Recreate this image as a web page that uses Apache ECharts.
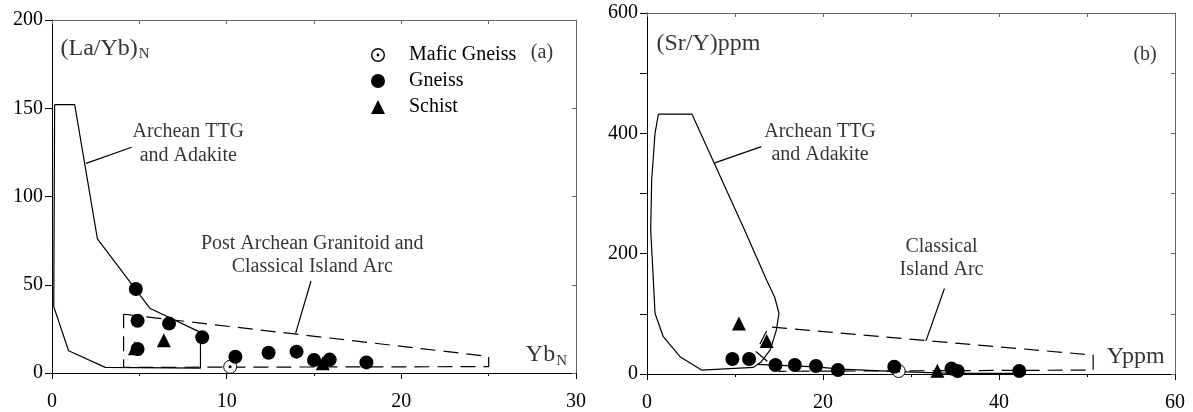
<!DOCTYPE html>
<html>
<head>
<meta charset="utf-8">
<title>(La/Yb)N - YbN and Sr/Y - Y</title>
<style>
  html, body { margin: 0; padding: 0; background: #fff; }
  #chart { width: 1193px; height: 412px; }
</style>
</head>
<body>
<div id="chart"></div>
<script src="https://cdn.jsdelivr.net/npm/echarts@6/dist/echarts.min.js"></script>
<script>
// ---- (a) YbN vs (La/Yb)N ----
var gneissA = [[4.8, 47.6], [4.9, 29.6], [4.9, 13.6], [6.7, 28], [8.6, 20.2], [10.5, 9.2],
               [12.4, 11.5], [14, 12.1], [15, 7.4], [15.9, 7.6], [18, 6]];
var schistA = [[6.4, 18.5], [4.75, 14], [15.5, 5.5]];
var maficA = [[10.2, 3.5]];
var ttgA = [[0.15, 152], [1.3, 152], [2.6, 76], [5.6, 36.7], [8.5, 23], [8.5, 2.8],
            [3.05, 3.2], [0.95, 12.6], [0.1, 37.6], [0.15, 152]];
var arcA = [[4.1, 33.3], [25, 9.4], [25, 3.6], [4.1, 3.2], [4.1, 33.3]];
var leaderA1 = [[1.95, 118.8], [4.56, 127.9]];
var leaderA2 = [[13.95, 22.6], [14.83, 52.1]];

// ---- (b) Y vs Sr/Y ----
var gneissB = [[9.7, 25], [11.6, 25], [14.6, 15], [16.8, 15], [19.2, 13.3], [21.7, 6.6],
               [28.1, 12], [34.6, 9], [35.3, 5], [42.3, 5]];
var schistB = [[10.45, 84], [13.6, 55], [33, 5.5]];
var maficB = [[28.6, 5]];
var ttgB = [[1.3, 432], [5.1, 432], [11.1, 239], [13.6, 156], [14.5, 128], [15.0, 101],
            [14.7, 73], [14.0, 40], [13.0, 20.5], [12.1, 11], [6.2, 6.6], [3.75, 28.8],
            [1.85, 62], [0.91, 101], [0.72, 156], [0.42, 239], [0.53, 322], [0.91, 400], [1.3, 432]];
var arcB = [[14.2, 78], [50.7, 31.5], [50.7, 6.5], [15, 4.5], [12.4, 37], [13.6, 72]];
var lowerB = [[12.5, 16], [19.2, 12], [22, 8], [28.6, 4], [33, 2], [36, 1], [43, 1]];
var leaderB1 = [[7.7, 351], [13.0, 378]];
var leaderB2 = [[31.7, 55], [33.8, 142]];

// text labels (x, y in data units of each panel)
var notesA = [[7.8, 136.5, 'Archean TTG'], [7.8, 123, 'and Adakite'],
              [14.9, 73.4, 'Post Archean Granitoid and'], [14.9, 60, 'Classical Island Arc'],
              [28.05, 181.6, '(a)']];
var notesB = [[19.66, 402, 'Archean TTG'], [19.66, 364, 'and Adakite'],
              [33.47, 211, 'Classical'], [33.47, 173, 'Island Arc'], [56.6, 530, '(b)']];

var FONT = '"Liberation Serif", "Times New Roman", serif';
// open circle with a dot in the middle (legend icon)
var RING = 'path://M0,10A10,10,0,1,1,20,10A10,10,0,1,1,0,10Z' +
           'M2,10A8,8,0,1,0,18,10A8,8,0,1,0,2,10Z' +
           'M8,10A2,2,0,1,1,12,10A2,2,0,1,1,8,10Z';

function bottomAxis(grid, max, step) {
    return {
        type: 'value', gridIndex: grid, position: 'bottom', min: 0, max: max, interval: step,
        axisLine: { onZero: false, lineStyle: { color: '#000', width: 1 } },
        axisTick: { length: 6, lineStyle: { color: '#000' } },
        minorTick: { show: true, splitNumber: 2, length: 3, lineStyle: { color: '#000' } },
        axisLabel: { margin: 19, color: '#000', fontSize: 20, fontFamily: FONT },
        splitLine: { show: false }
    };
}
function topAxis(grid, max, step) {
    return {
        type: 'value', gridIndex: grid, position: 'top', min: 0, max: max, interval: step,
        axisLine: { onZero: false, lineStyle: { color: '#666', width: 1 } },
        axisTick: { inside: true, length: 4, lineStyle: { color: '#666' } },
        axisLabel: { show: false }, splitLine: { show: false }
    };
}
function leftAxis(grid, max, step, minor) {
    return {
        type: 'value', gridIndex: grid, position: 'left', min: 0, max: max, interval: step,
        axisLine: { show: true, onZero: false, lineStyle: { color: '#000', width: 1 } },
        axisTick: { show: true, length: 7, lineStyle: { color: '#000' } },
        minorTick: { show: minor, splitNumber: 2, length: 7, lineStyle: { color: '#000' } },
        axisLabel: { margin: 9, color: '#000', fontSize: 20, fontFamily: FONT },
        splitLine: { show: false }
    };
}
function rightAxis(grid, max, step) {
    return {
        type: 'value', gridIndex: grid, position: 'right', min: 0, max: max, interval: step,
        axisLine: { show: true, onZero: false, lineStyle: { color: '#666', width: 1 } },
        axisTick: { show: true, inside: true, length: 4, lineStyle: { color: '#666' } },
        axisLabel: { show: false }, splitLine: { show: false }
    };
}

function outline(data, ax, dashed) {
    return {
        type: 'line', data: data, xAxisIndex: ax, yAxisIndex: ax, showSymbol: false, symbol: 'none',
        silent: true, z: 1,
        lineStyle: { color: '#000', width: 1.2, type: dashed ? [15, 8] : 'solid' }
    };
}
function points(name, data, ax, symbol, size, color, border) {
    return {
        name: name, type: 'scatter', data: data, xAxisIndex: ax, yAxisIndex: ax,
        symbol: symbol, symbolSize: size, z: 3,
        itemStyle: { color: color, borderColor: '#000', borderWidth: border, opacity: 1 }
    };
}
function notes(list, ax) {
    return {
        type: 'scatter', xAxisIndex: ax, yAxisIndex: ax, silent: true, symbolSize: 1, z: 4,
        itemStyle: { color: 'rgba(0,0,0,0)' },
        data: list.map(function (n) { return { value: [n[0], n[1]], text: n[2] }; }),
        label: {
            show: true, position: 'inside', color: '#000', fontSize: 20, fontFamily: FONT,
            formatter: function (p) { return p.data.text; }
        }
    };
}
function axisTitle(x, y, txt, sub, ax) {
    return {
        type: 'scatter', xAxisIndex: ax, yAxisIndex: ax, silent: true, symbolSize: 1, z: 4,
        itemStyle: { color: 'rgba(0,0,0,0)' },
        data: [[x, y]],
        label: {
            show: true, position: 'right', distance: 0,
            formatter: sub ? '{m|' + txt + '}{s|' + sub + '}' : '{m|' + txt + '}',
            rich: {
                m: { fontSize: 24, color: '#000', fontFamily: FONT },
                s: { fontSize: 15, color: '#000', fontFamily: FONT, padding: [12, 0, 0, 1] }
            }
        }
    };
}

var chart = echarts.init(document.getElementById('chart'));
chart.setOption({
    backgroundColor: '#fff',
    animation: false,
    grid: [
        { left: 52, top: 20, width: 524, height: 353, outerBoundsMode: 'none' },
        { left: 647, top: 13, width: 528, height: 361, outerBoundsMode: 'none' }
    ],
    legend: {
        data: [
            { name: 'Mafic Gneiss', icon: RING, itemStyle: { color: '#000', borderWidth: 0 } },
            { name: 'Gneiss' },
            { name: 'Schist' }
        ],
        orient: 'vertical', left: 366, top: 40,
        itemWidth: 14, itemHeight: 14, itemGap: 6,
        selectedMode: false,
        textStyle: { fontSize: 20, lineHeight: 20, color: '#000', fontFamily: FONT, padding: [0, 0, 0, 19] }
    },
    xAxis: [bottomAxis(0, 30, 10), topAxis(0, 30, 5), bottomAxis(1, 60, 20), topAxis(1, 60, 10)],
    yAxis: [leftAxis(0, 200, 50, false), rightAxis(0, 200, 50), leftAxis(1, 600, 200, true), rightAxis(1, 600, 100)],
    series: [
        outline(ttgA, 0, false),
        outline(arcA, 0, true),
        outline(leaderA1, 0, false),
        outline(leaderA2, 0, false),
        points('Mafic Gneiss', maficA, 0, 'circle', 13, '#fff', 1),
        points('mafic centre', maficA, 0, 'circle', 3, '#000', 0),
        points('Gneiss', gneissA, 0, 'circle', 14, '#000', 0),
        points('Schist', schistA, 0, 'triangle', 14, '#000', 0),
        notes(notesA, 0),
        axisTitle(0.46, 184, '(La/Yb)', 'N', 0),
        axisTitle(27.1, 10.2, 'Yb', 'N', 0),

        outline(ttgB, 2, false),
        outline(arcB, 2, true),
        outline(lowerB, 2, false),
        outline(leaderB1, 2, false),
        outline(leaderB2, 2, false),
        points('Mafic Gneiss', maficB, 2, 'circle', 13, '#fff', 1),
        points('mafic centre', maficB, 2, 'circle', 3, '#000', 0),
        points('Gneiss', gneissB, 2, 'circle', 14, '#000', 0),
        points('Schist', schistB, 2, 'triangle', 14, '#000', 0),
        notes(notesB, 2),
        axisTitle(1.02, 549, '(Sr/Y)ppm', '', 2),
        axisTitle(52.2, 28, 'Yppm', '', 2)
    ]
});
</script>
</body>
</html>
